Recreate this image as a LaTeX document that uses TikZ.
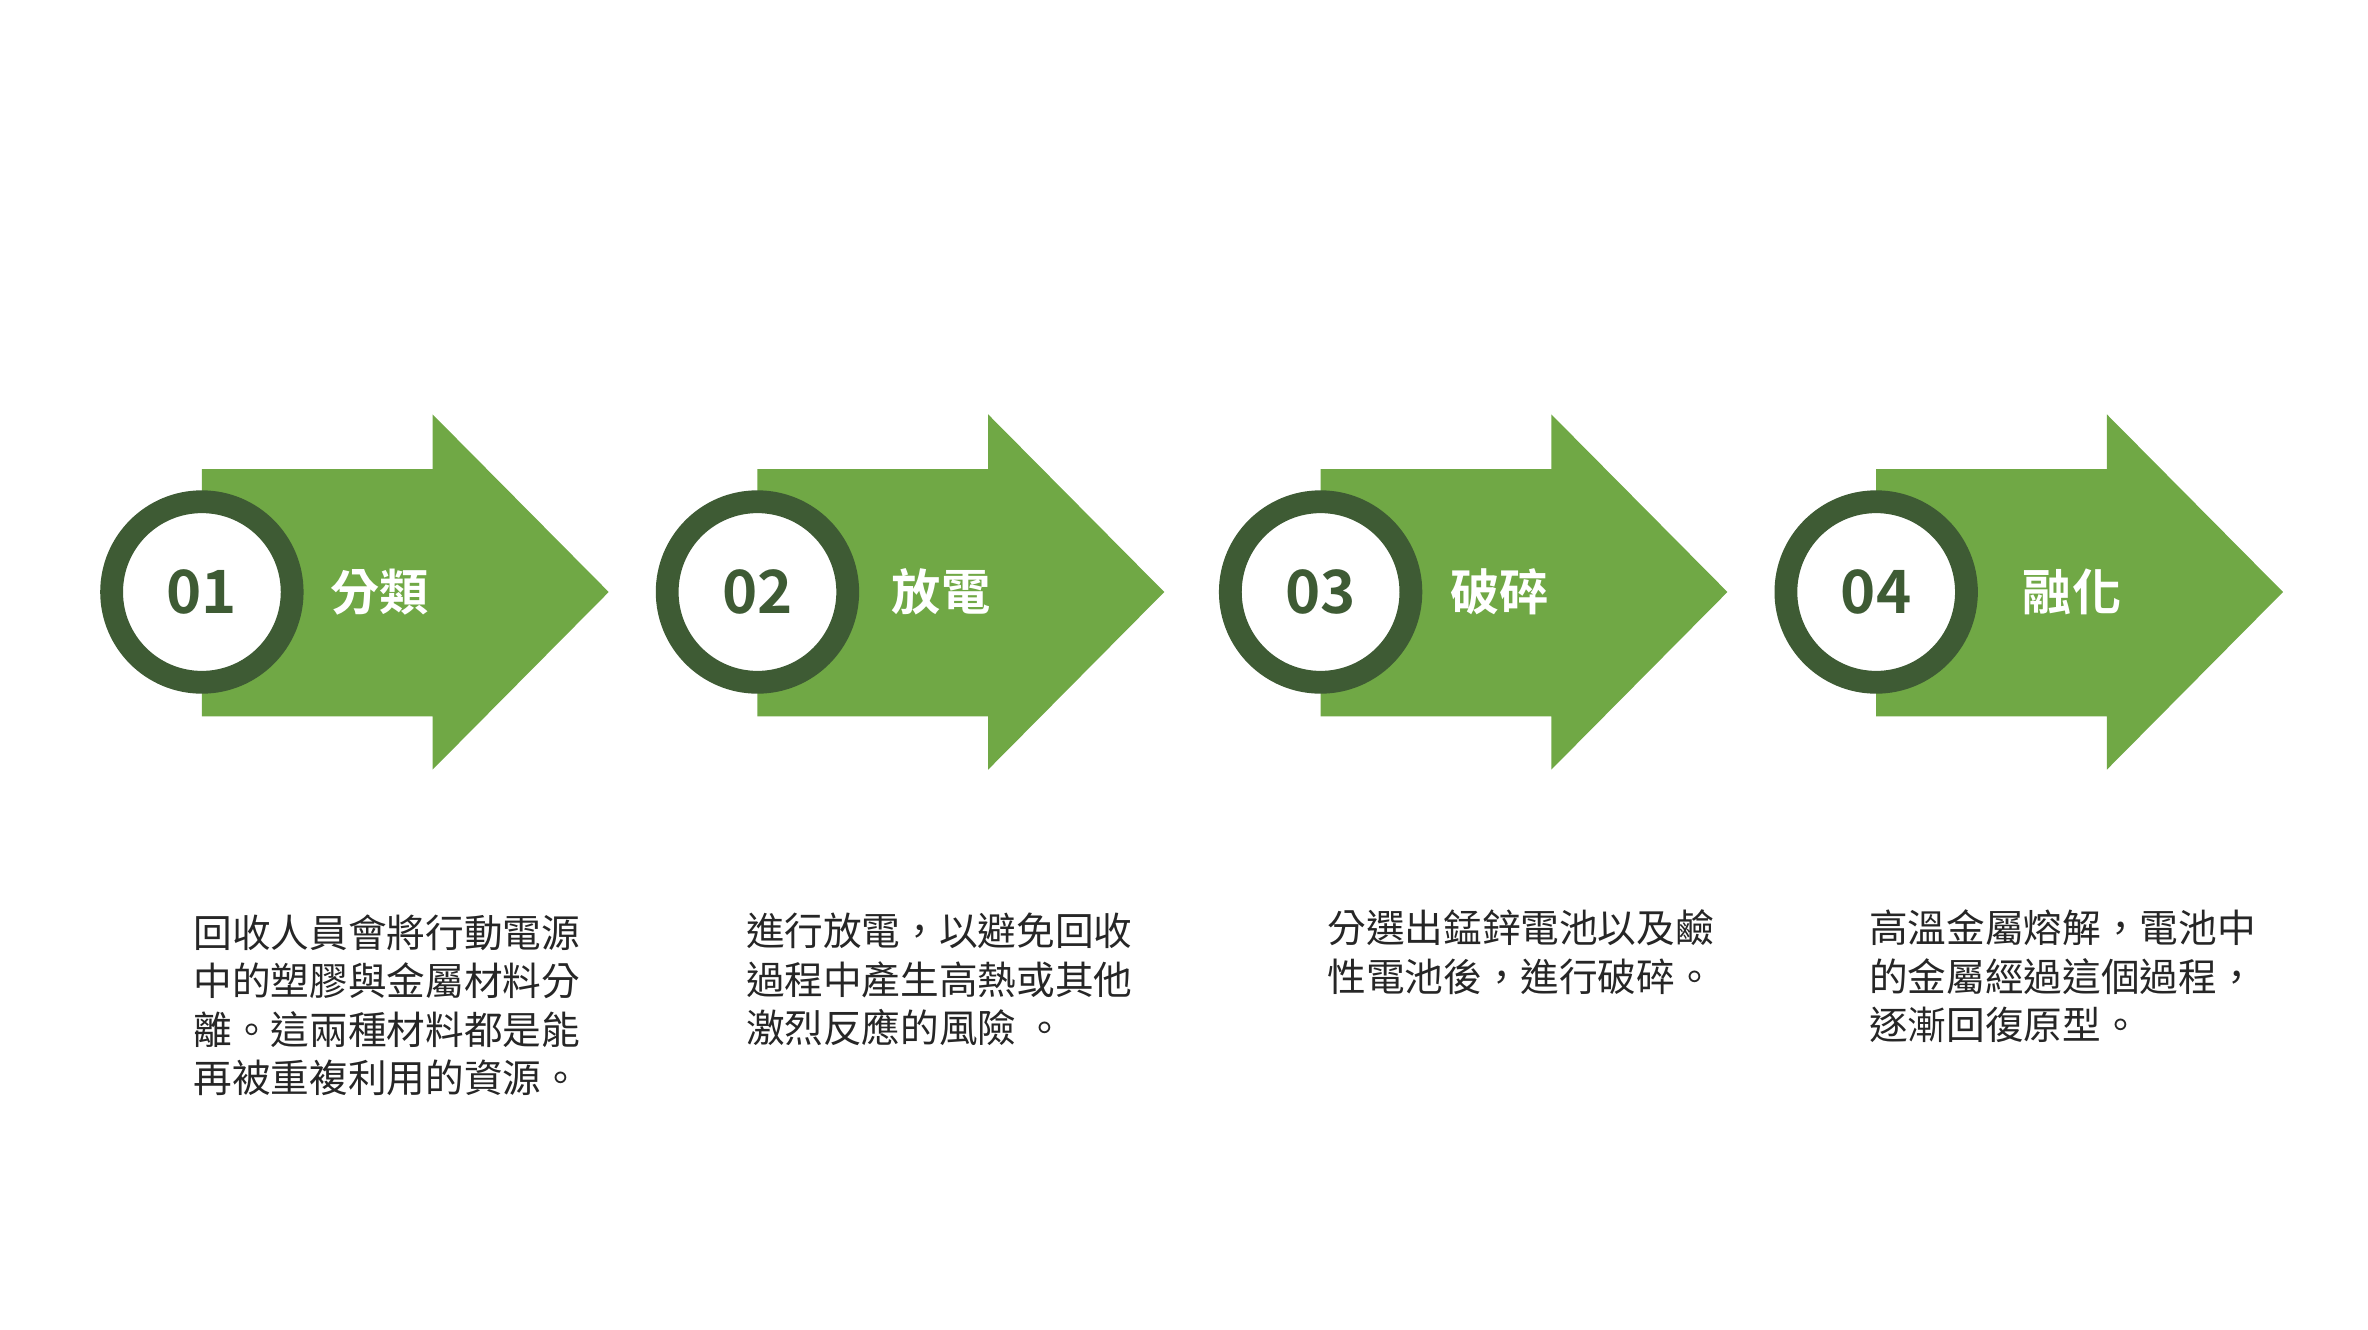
\documentclass[tikz,border=0pt]{standalone}
\usepackage{fontspec}
\setmainfont{Noto Sans CJK TC}
\newfontfamily\cjkbold{Noto Sans CJK TC Bold}
\usetikzlibrary{positioning}
\definecolor{stepgreen}{HTML}{70A845}
\definecolor{ringgreen}{HTML}{3E5B34}
\tikzset{
  steparrow/.style={fill=stepgreen, draw=none},
  ring/.style={circle, fill=white, draw=ringgreen, line width=0.228cm, minimum size=1.806cm, inner sep=0pt,
    font=\cjkbold\fontsize{17}{17}\selectfont, text=ringgreen},
  steptitle/.style={font=\cjkbold\fontsize{14}{14}\selectfont, text=white},
  stepnote/.style={anchor=north west, align=left, inner sep=0pt, font=\fontsize{11}{13.8}\selectfont, text=black!85}
}
\begin{document}
\begin{tikzpicture}[x=0.01518cm, y=-0.01518cm]
  \useasboundingbox (0,0) rectangle (1560,876);
  \foreach \cx/\num/\title/\tx in {133/01/分類/250, 499/02/放電/620, 870/03/破碎/988, 1236/04/融化/1365} {
    \fill[steparrow] (\cx,309) -- ++(152,0) -- ++(0,-36) -- ++(116,117) -- ++(-116,117) -- ++(0,-35) -- ++(-152,0) -- cycle;
    \node[ring] (ring\num) at (\cx,390) {\num};
    \node[steptitle] (title\num) at (\tx,390) {\title};
  }
  \node[stepnote] (note01) at (127,602) {回收人員會將行動電源\\中的塑膠與金屬材料分\\離。這兩種材料都是能\\再被重複利用的資源。};
  \node[stepnote] (note02) at (491,601) {進行放電，以避免回收\\過程中產生高熱或其他\\激烈反應的風險 。};
  \node[stepnote] (note03) at (874,599) {分選出錳鋅電池以及鹼\\性電池後，進行破碎。};
  \node[stepnote] (note04) at (1231,599) {高溫金屬熔解，電池中\\的金屬經過這個過程，\\逐漸回復原型。};
\end{tikzpicture}
\end{document}
